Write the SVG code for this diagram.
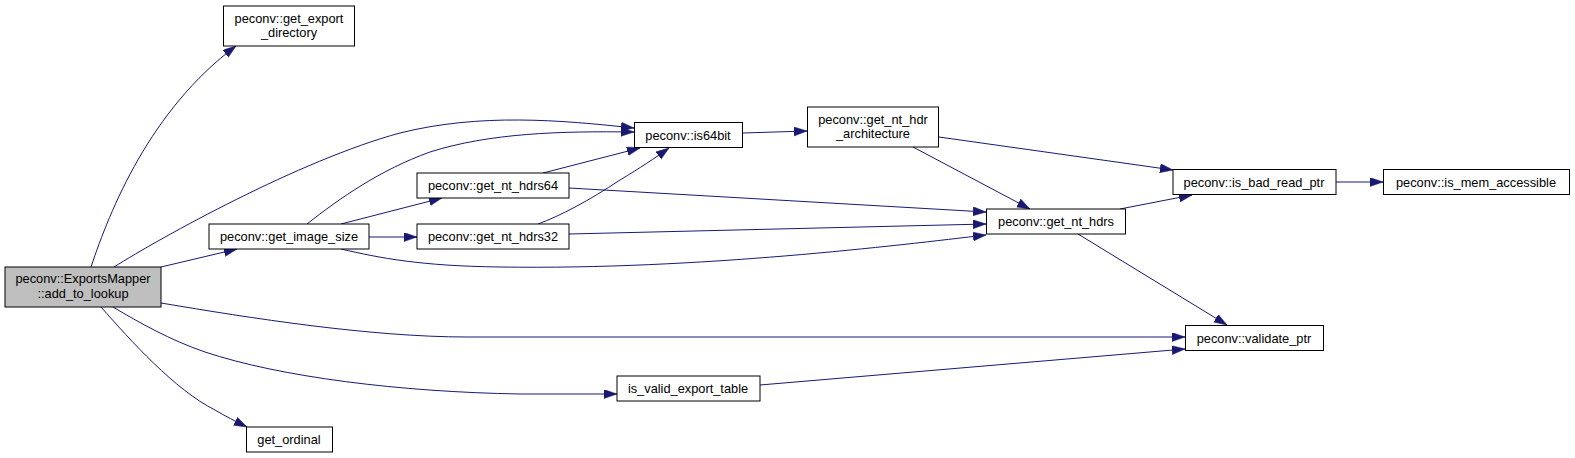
<svg xmlns="http://www.w3.org/2000/svg" width="1575" height="458" viewBox="0 0 1575 458">
<style>
.n rect{fill:#ffffff;stroke:#000000;stroke-width:1}
.n text{font-family:"Liberation Sans",Arial,sans-serif;font-size:12.8px;fill:#000000;text-anchor:middle}
.e path{fill:none;stroke:#191970;stroke-width:1}
</style>
<defs>
<marker id="ah" markerUnits="userSpaceOnUse" markerWidth="14" markerHeight="10" refX="13" refY="4.5" orient="auto">
<path d="M0,0 L13,4.5 L0,9 z" fill="#191970" stroke="#191970" stroke-width="0.5"/>
</marker>
</defs>
<rect width="1575" height="458" fill="#ffffff"/>
<g id="edges" class="e">
<path marker-end="url(#ah)" d="M91,267 C110,210 150,110 236,46"/>
<path marker-end="url(#ah)" d="M114,267 C160,238 300,160 400,133 C480,113 560,120 634,128"/>
<path marker-end="url(#ah)" d="M307,224 C340,198 380,170 430,152 C490,133 560,131 634,132"/>
<path marker-end="url(#ah)" d="M161,267 L237,249"/>
<path marker-end="url(#ah)" d="M161,303 C250,318 370,337 467,337 L1185,337"/>
<path marker-end="url(#ah)" d="M113,307 C140,323 170,340 205,352 C280,377 400,392 520,394 L617,394"/>
<path marker-end="url(#ah)" d="M101,307 C130,340 175,390 215,410 C225,416 235,421 247,427"/>
<path marker-end="url(#ah)" d="M341,224 L442,198"/>
<path marker-end="url(#ah)" d="M369,237 L417,237"/>
<path marker-end="url(#ah)" d="M341,249 C380,258 420,266 500,267 C700,270 900,245 986,235"/>
<path marker-end="url(#ah)" d="M543,173 L640,148"/>
<path marker-end="url(#ah)" d="M569,188 L986,212"/>
<path marker-end="url(#ah)" d="M538,224 C560,216 590,200 620,180 C640,168 655,158 669,148"/>
<path marker-end="url(#ah)" d="M569,234 L986,224"/>
<path marker-end="url(#ah)" d="M743,133 L807,131"/>
<path marker-end="url(#ah)" d="M939,137 L1173,170"/>
<path marker-end="url(#ah)" d="M913,147 L1030,209"/>
<path marker-end="url(#ah)" d="M1120,209 L1192,195"/>
<path marker-end="url(#ah)" d="M1078,234 L1227,325"/>
<path marker-end="url(#ah)" d="M1336,182 L1383,182"/>
<path marker-end="url(#ah)" d="M760,385 L1185,349"/>
</g>
<g id="node_add_to_lookup" class="n">
<rect x="5" y="267" width="156" height="40" style="fill:#bfbfbf"/>
<text x="83" y="283">peconv::ExportsMapper</text>
<text x="83" y="298">::add_to_lookup</text>
</g>
<g id="node_get_export_directory" class="n">
<rect x="223.5" y="6" width="131" height="40"/>
<text x="289" y="22.5">peconv::get_export</text>
<text x="289" y="37">_directory</text>
</g>
<g id="node_get_image_size" class="n">
<rect x="209" y="224" width="160" height="25"/>
<text x="289" y="241">peconv::get_image_size</text>
</g>
<g id="node_get_ordinal" class="n">
<rect x="246.5" y="427" width="86" height="25"/>
<text x="289" y="444">get_ordinal</text>
</g>
<g id="node_is64bit" class="n">
<rect x="634.5" y="122.5" width="108" height="25"/>
<text x="688" y="139.5">peconv::is64bit</text>
</g>
<g id="node_get_nt_hdrs64" class="n">
<rect x="417" y="173" width="152" height="25"/>
<text x="493" y="190">peconv::get_nt_hdrs64</text>
</g>
<g id="node_get_nt_hdrs32" class="n">
<rect x="417" y="224" width="152" height="25"/>
<text x="493" y="241">peconv::get_nt_hdrs32</text>
</g>
<g id="node_is_valid_export_table" class="n">
<rect x="617" y="376" width="143" height="25"/>
<text x="688" y="393">is_valid_export_table</text>
</g>
<g id="node_get_nt_hdr_architecture" class="n">
<rect x="807.5" y="107" width="131" height="40"/>
<text x="873" y="123.5">peconv::get_nt_hdr</text>
<text x="873" y="138">_architecture</text>
</g>
<g id="node_get_nt_hdrs" class="n">
<rect x="986.5" y="209" width="139" height="25"/>
<text x="1056" y="226">peconv::get_nt_hdrs</text>
</g>
<g id="node_is_bad_read_ptr" class="n">
<rect x="1173" y="169.5" width="163" height="25"/>
<text x="1254" y="186.5">peconv::is_bad_read_ptr</text>
</g>
<g id="node_validate_ptr" class="n">
<rect x="1185.5" y="325.5" width="138" height="25"/>
<text x="1254" y="342.5">peconv::validate_ptr</text>
</g>
<g id="node_is_mem_accessible" class="n">
<rect x="1383.5" y="169.5" width="186" height="25"/>
<text x="1476" y="186.5">peconv::is_mem_accessible</text>
</g>
</svg>
